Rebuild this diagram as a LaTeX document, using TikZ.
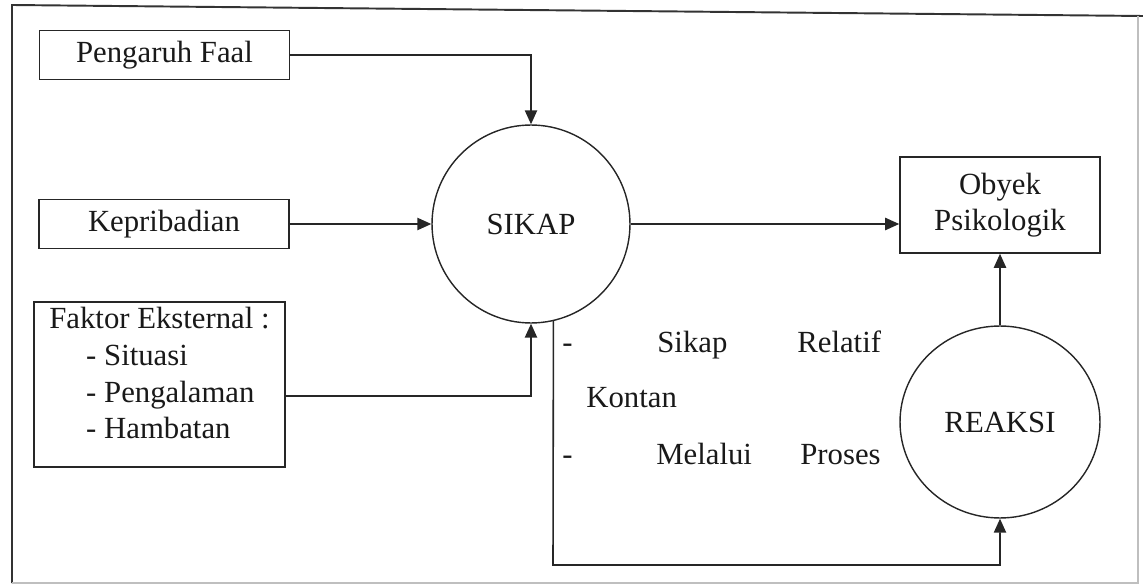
\documentclass[tikz,border=0pt]{standalone}
\usepackage{fontspec}
\setmainfont{Liberation Serif}
\usetikzlibrary{arrows.meta, positioning, shapes.geometric}

\begin{document}
\begin{tikzpicture}[x=0.02cm, y=-0.02cm,
    every node/.style={font=\fontsize{17.5}{20.8}\selectfont, text=black!90},
    box/.style={draw=black!85, line width=0.9pt, minimum width=5cm, minimum height=0.98cm, inner sep=2pt},
    bubble/.style={draw=black!85, line width=0.8pt, ellipse, inner sep=0pt},
    arr/.style={draw=black!85, line width=0.9pt, -{Triangle[length=8pt, width=7pt]}},
    word/.style={inner sep=0pt, anchor=base west}]
    \useasboundingbox (0,0) rectangle (1143,587);
    % frame
    \draw[black!80, line width=1.1pt] (12,583) -- (12,5) -- (1143,16);
    \draw[black!25, line width=0.6pt] (12,583) -- (1138,583) -- (1138,16);
    % factors
    \node[box] (peng) at (164.5,55) {Pengaruh Faal};
    \node[box] (kep) at (164,224) {Kepribadian};
    \node[box, minimum width=5.02cm, minimum height=3.3cm, text depth=13pt, align=left] (faktor) at (159.5,384.5)
        {Faktor Eksternal :\\\hspace*{1.2em}- Situasi\\\hspace*{1.2em}- Pengalaman\\\hspace*{1.2em}- Hambatan};
    \node[bubble, minimum width=3.96cm, minimum height=3.96cm] (sikap) at (531,224) {SIKAP};
    \node[box, minimum width=4cm, minimum height=1.92cm, align=center] (obyek) at (1000,205) {Obyek\\Psikologik};
    \node[bubble, minimum width=4cm, minimum height=3.84cm] (reaksi) at (1000,422) {REAKSI};
    \coordinate (turn) at (553,565);
    % connectors
    \draw[arr] (peng) -| (sikap);
    \draw[arr] (kep) -- (sikap);
    \draw[arr] ([yshift=-0.23cm]faktor.east) -| (sikap.south);
    \draw[arr] (sikap) -- (sikap -| obyek.west);
    \draw[arr] (reaksi.north) -- (obyek.south);
    \draw[arr] (sikap.-77) -- (turn) -| (reaksi.south);
    % note text
    \node[word] (dash1) at (562,353) {-};
    \node[word] (w1) at (657,353) {Sikap};
    \node[word] (w2) at (797,353) {Relatif};
    \node[word] (w3) at (586,408) {Kontan};
    \node[word] (dash2) at (562,464) {-};
    \node[word] (w4) at (656,464) {Melalui};
    \node[word] (w5) at (800,464) {Proses};
\end{tikzpicture}
\end{document}
